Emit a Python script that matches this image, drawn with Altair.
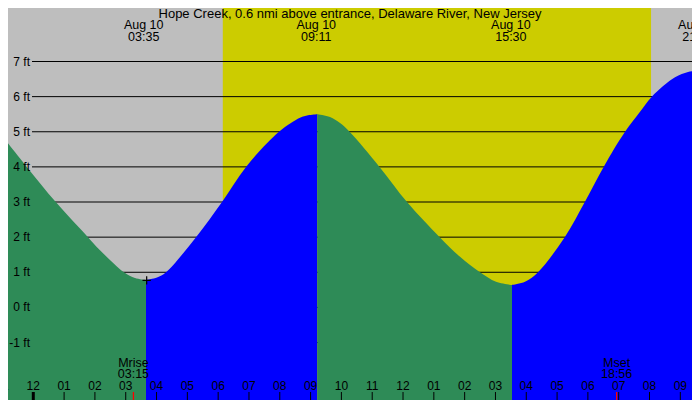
import altair as alt
import pandas as pd

TITLE = "Hope Creek, 0.6 nmi above entrance, Delaware River, New Jersey"

# Tide height readings (hours after midnight Aug 10, feet), one list per half-cycle
fall1_t = [-1.081, -0.211, 0.730, 1.775, 2.165, 2.944, 3.301, 3.658]
fall1_v = [4.96, 4.00, 3.00, 2.00, 1.63, 1.00, 0.835, 0.78]
rise1_t = [3.658, 4.015, 4.307, 5.281, 6.125, 6.904, 7.975, 8.656, 8.916, 9.221]
rise1_v = [0.78, 0.85, 1.00, 2.00, 3.00, 4.00, 5.00, 5.40, 5.47, 5.50]
fall2_t = [9.221, 9.630, 9.955, 10.266, 11.237, 12.130, 13.191, 13.850, 14.499, 15.018, 15.537]
fall2_v = [5.50, 5.42, 5.25, 5.00, 4.00, 3.00, 2.00, 1.44, 1.00, 0.73, 0.64]
rise2_t = [15.537, 15.959, 16.381, 17.248, 17.900, 18.511, 19.205, 19.692, 20.075, 20.828, 21.250, 21.597]
rise2_v = [0.64, 0.73, 1.00, 2.00, 3.00, 4.00, 5.00, 5.57, 6.00, 6.55, 6.70, 6.74]
fall3_t = [21.597, 21.75]
fall3_v = [6.74, 6.72]

# Current-time marker
now_t = [3.68]
now_v = [0.77]

# High / low tide labels
ext_t = [3.583, 9.183, 15.5, 21.57]
ext_date = ["Aug 10", "Aug 10", "Aug 10", "Aug 10"]
ext_time = ["03:35", "09:11", "15:30", "21:34"]

# Daylight
sunrise = [6.15]
sunset = [20.05]

# Moon
moon_t = [3.25, 18.933]
moon_name = ["Mrise", "Mset"]
moon_time = ["03:15", "18:56"]

# Hour ticks
hours = list(range(-1, 22))
hour_labels = ["11", "12", "01", "02", "03", "04", "05", "06", "07", "08", "09", "10",
               "11", "12", "01", "02", "03", "04", "05", "06", "07", "08", "09"]
midnight = [0]

# Height levels
levels = [-1, 0, 1, 2, 3, 4, 5, 6, 7]
level_labels = ["-1 ft", "0 ft", "1 ft", "2 ft", "3 ft", "4 ft", "5 ft", "6 ft", "7 ft"]

GREY = "#BEBEBE"
YELLOW = "#CCCC00"
GREEN = "#2E8B57"
BLUE = "#0000FF"
FONT = "Liberation Sans"

W, H = 684, 392
xs = alt.Scale(domain=[-0.821, 21.379], nice=False, zero=False)
ys = alt.Scale(domain=[-2.636, 8.523], nice=False, zero=False)

rows = []
for seg, (ts, vs, ph) in enumerate([(fall1_t, fall1_v, "fall"), (rise1_t, rise1_v, "rise"),
                                     (fall2_t, fall2_v, "fall"), (rise2_t, rise2_v, "rise"),
                                     (fall3_t, fall3_v, "fall")]):
    for t, v in zip(ts, vs):
        rows.append({"t": t, "v": v, "seg": seg, "phase": ph})
tide = pd.DataFrame(rows)


def txt(df, size, **kw):
    return alt.Chart(df).mark_text(font=FONT, fontSize=size, color="black", **kw)


day = alt.Chart(pd.DataFrame({"a": sunrise, "b": sunset})).mark_rect(color=YELLOW).encode(
    x=alt.X("a:Q", scale=xs, axis=None), x2="b:Q",
    y=alt.value(0), y2=alt.value(H))

lv = pd.DataFrame({"v": levels, "lab": level_labels})
grid = alt.Chart(lv).mark_rule(color="black", strokeWidth=1).encode(
    x=alt.value(24), x2=alt.value(W),
    y=alt.Y("v:Q", scale=ys, axis=None))

area = alt.Chart(tide).mark_area(interpolate="catmull-rom").encode(
    x=alt.X("t:Q", scale=xs, axis=None),
    y=alt.Y("v:Q", scale=ys, axis=None, stack=None),
    y2=alt.value(H),
    color=alt.Color("phase:N", scale=alt.Scale(domain=["fall", "rise"], range=[GREEN, BLUE]), legend=None),
    detail="seg:N")

cross = alt.Chart(pd.DataFrame({"t": now_t, "v": now_v})).mark_point(
    shape="M-1,0L1,0M0,-1L0,1", size=70, stroke="black", strokeWidth=1.2, filled=False, opacity=1).encode(
    x=alt.X("t:Q", scale=xs, axis=None), y=alt.Y("v:Q", scale=ys, axis=None))

ylab = txt(lv, 12, align="right", baseline="middle").encode(
    x=alt.value(22), y=alt.Y("v:Q", scale=ys, axis=None), text="lab:N")

hr = pd.DataFrame({"t": hours, "lab": hour_labels})
hticks = alt.Chart(hr).mark_rule(color="black", strokeWidth=1).encode(
    x=alt.X("t:Q", scale=xs, axis=None), y=alt.value(H - 8), y2=alt.value(H))
mticks = alt.Chart(pd.DataFrame({"t": midnight})).mark_rule(color="black", strokeWidth=3).encode(
    x=alt.X("t:Q", scale=xs, axis=None), y=alt.value(H - 8), y2=alt.value(H))
hlabs = txt(hr, 12, align="center", baseline="alphabetic").encode(
    x=alt.X("t:Q", scale=xs, axis=None), y=alt.value(H - 10), text="lab:N")

mn = pd.DataFrame({"t": moon_t, "name": moon_name, "time": moon_time})
moonticks = alt.Chart(mn).mark_rule(color="red", strokeWidth=1.3).encode(
    x=alt.X("t:Q", scale=xs, axis=None), y=alt.value(H - 8), y2=alt.value(H))
moon1 = txt(mn, 12.5, align="center", baseline="alphabetic").encode(
    x=alt.X("t:Q", scale=xs, axis=None), y=alt.value(H - 33.5), text="name:N")
moon2 = txt(mn, 12.5, align="center", baseline="alphabetic").encode(
    x=alt.X("t:Q", scale=xs, axis=None), y=alt.value(H - 22), text="time:N")

ex = pd.DataFrame({"t": ext_t, "d": ext_date, "tm": ext_time})
ex1 = txt(ex, 12.5, align="center", baseline="alphabetic").encode(
    x=alt.X("t:Q", scale=xs, axis=None), y=alt.value(21), text="d:N")
ex2 = txt(ex, 12.5, align="center", baseline="alphabetic").encode(
    x=alt.X("t:Q", scale=xs, axis=None), y=alt.value(32.5), text="tm:N")

title = txt(pd.DataFrame({"s": [TITLE]}), 13, align="center", baseline="alphabetic").encode(
    x=alt.value(342), y=alt.value(9.5), text="s:N")

chart = alt.layer(day, grid, area, cross, ylab, hticks, mticks, hlabs, moonticks, moon1, moon2,
                  ex1, ex2, title).properties(
    width=W, height=H, padding=0, autosize="none", background=GREY
).configure_view(strokeWidth=0)

chart.save("out.html", embed_options={"renderer": "svg", "actions": False})
